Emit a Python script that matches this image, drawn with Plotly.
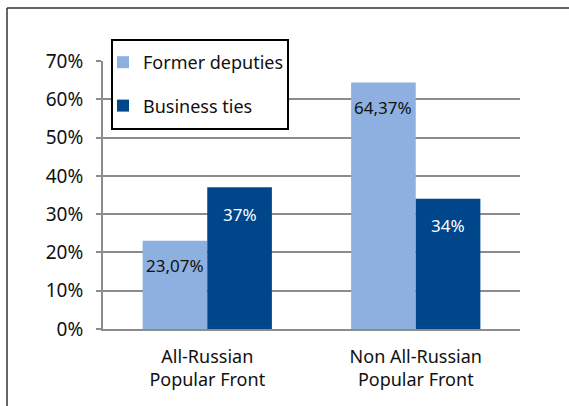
import plotly.graph_objects as go

categories = ["All-Russian<br>Popular Front", "Non All-Russian<br>Popular Front"]
series_names = ["Former deputies", "Business ties"]
former_deputies = [23.07, 64.37]
business_ties = [37, 34]
former_labels = ["23,07%", "64,37%"]
business_labels = ["37%", "34%"]
y_ticks = [0, 10, 20, 30, 40, 50, 60, 70]
y_tick_labels = ["0%", "10%", "20%", "30%", "40%", "50%", "60%", "70%"]

LIGHT = "#8DB0E0"
DARK = "#00468B"
FONT = "Noto Sans"
W, H = 569, 406
L, R, T, B = 103, 49, 61, 77
pw, ph = W - L - R, H - T - B

fig = go.Figure()
fig.add_trace(go.Bar(x=categories, y=former_deputies, name=series_names[0],
                     marker=dict(color=LIGHT, line=dict(width=0)), legendgroup="a"))
fig.add_trace(go.Bar(x=categories, y=business_ties, name=series_names[1],
                     marker=dict(color=DARK, line=dict(width=0)), legendgroup="b"))

bargap = 0.38
half = (1 - bargap) / 4
for i, (v, t) in enumerate(zip(former_deputies, former_labels)):
    fig.add_annotation(x=i - half, y=v, text=t, showarrow=False, yanchor="middle",
                       yshift=-25, font=dict(family=FONT, size=17, color="#111111"))
for i, (v, t) in enumerate(zip(business_ties, business_labels)):
    fig.add_annotation(x=i + half, y=v, text=t, showarrow=False, yanchor="middle",
                       yshift=-27, font=dict(family=FONT, size=17, color="white"))

px2x = lambda px: (px - L) / pw
px2y = lambda py: (H - B - py) / ph
# outer frame
fig.add_shape(type="line", xref="paper", yref="paper", x0=px2x(7), x1=px2x(570),
              y0=px2y(8), y1=px2y(8), line=dict(color="#333333", width=1.5))
fig.add_shape(type="line", xref="paper", yref="paper", x0=px2x(7), x1=px2x(7),
              y0=px2y(8), y1=px2y(407), line=dict(color="#333333", width=1.5))
# legend box
fig.add_shape(type="rect", xref="paper", yref="paper", layer="above",
              x0=px2x(112), x1=px2x(288), y0=px2y(129), y1=px2y(40),
              fillcolor="white", line=dict(color="black", width=2))

fig.update_layout(
    width=W, height=H,
    margin=dict(l=L, r=R, t=T, b=B),
    paper_bgcolor="white", plot_bgcolor="white",
    barmode="group", bargap=bargap, bargroupgap=0,
    font=dict(family=FONT, size=18, color="#111111"),
    legend=dict(x=px2x(103), y=px2y(44), xanchor="left", yanchor="top",
                borderwidth=0, bgcolor="rgba(0,0,0,0)",
                traceorder="grouped", tracegroupgap=17, itemwidth=30,
                font=dict(family=FONT, size=18, color="#111111")),
    xaxis=dict(showline=True, linecolor="#8c8c8c", linewidth=2, ticks="",
               tickfont=dict(family=FONT, size=18), ticklabelstandoff=10),
    yaxis=dict(range=[0, 70], tickvals=y_ticks, ticktext=y_tick_labels,
               showgrid=True, gridcolor="#8c8c8c", gridwidth=2,
               showline=True, linecolor="#8c8c8c", linewidth=2,
               ticks="outside", ticklen=5, tickcolor="#8c8c8c", tickwidth=2,
               ticklabelstandoff=9, zeroline=False,
               tickfont=dict(family=FONT, size=19)),
)

fig.write_html("out.html", config={"displayModeBar": False},
               post_script="document.body.style.margin='0';")
